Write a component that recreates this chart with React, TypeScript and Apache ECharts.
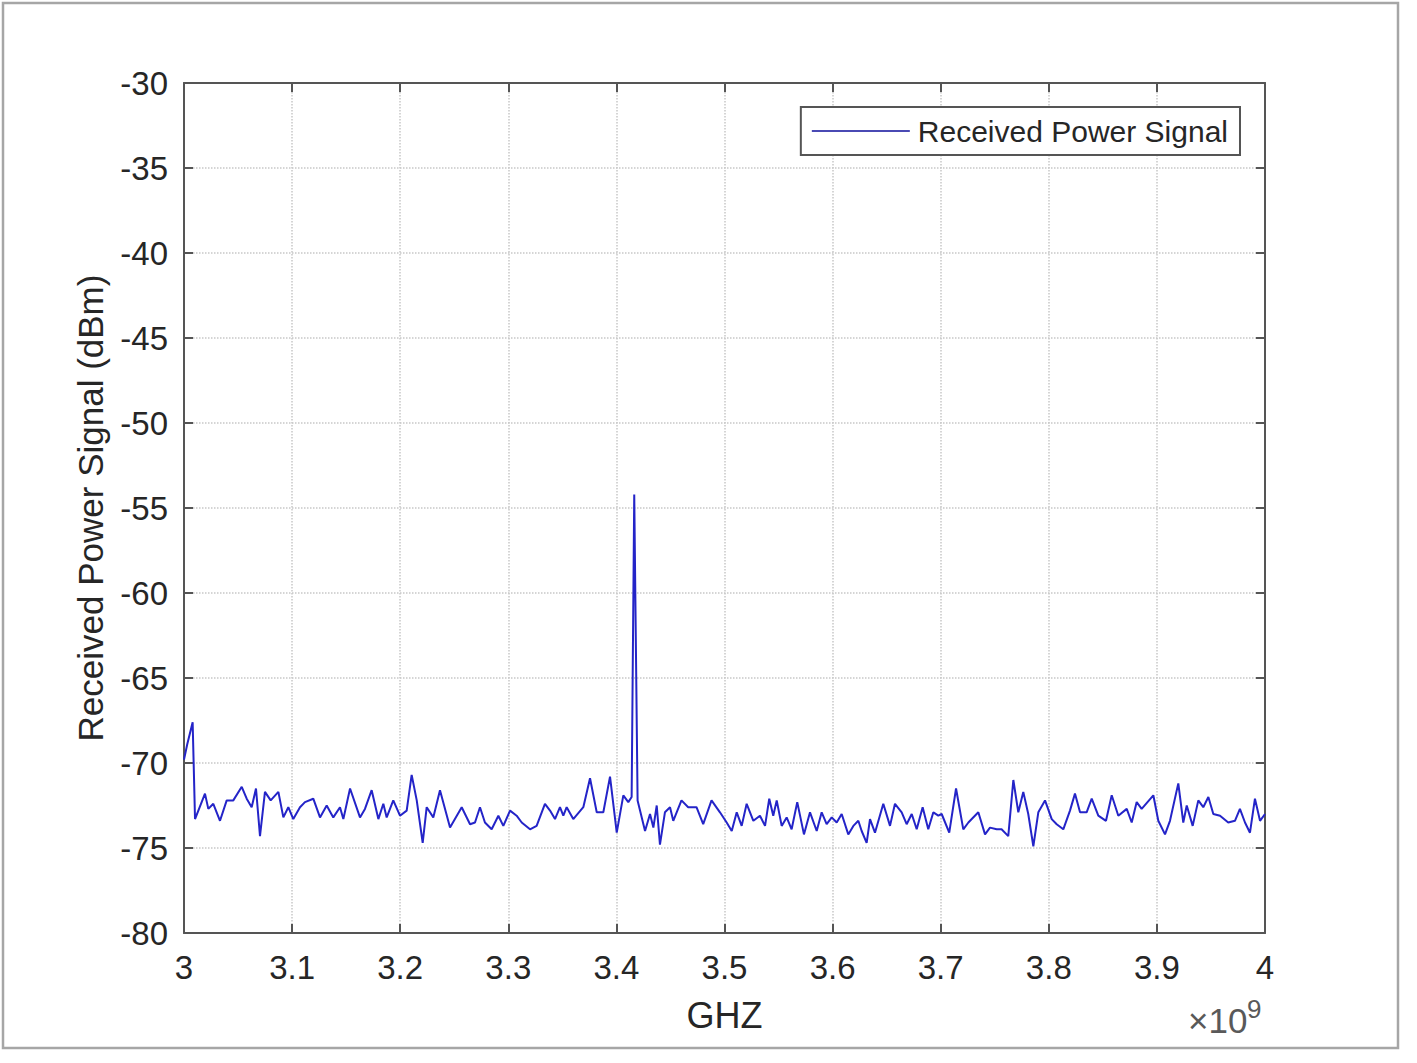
import React, { useEffect, useRef } from "react";
import * as echarts from "echarts";

const xTickLabels = ["3", "3.1", "3.2", "3.3", "3.4", "3.5", "3.6", "3.7", "3.8", "3.9", "4"];
const yTickLabels = ["-30", "-35", "-40", "-45", "-50", "-55", "-60", "-65", "-70", "-75", "-80"];
const seriesName = "Received Power Signal";

const freqGHz = [
  3.0, 3.003, 3.008, 3.0102, 3.0194, 3.0225, 3.0271, 3.0333, 3.0395, 3.0456, 3.0534, 3.058, 3.0626,
  3.0666, 3.0703, 3.0749, 3.0802, 3.0873, 3.0919, 3.0965, 3.1011, 3.1073, 3.1119, 3.1196, 3.1258,
  3.132, 3.1381, 3.1443, 3.1474, 3.1536, 3.1628, 3.1674, 3.1736, 3.1798, 3.1844, 3.1875, 3.1936,
  3.1998, 3.206, 3.2106, 3.2153, 3.2208, 3.2245, 3.2306, 3.2368, 3.2461, 3.2569, 3.2646, 3.2692,
  3.2738, 3.2784, 3.2846, 3.2908, 3.2954, 3.3016, 3.3077, 3.3124, 3.3201, 3.3262, 3.3339, 3.3386,
  3.3432, 3.3478, 3.3509, 3.354, 3.3601, 3.3694, 3.3756, 3.3818, 3.3879, 3.3941, 3.4003, 3.4064,
  3.411, 3.4141, 3.4165, 3.4196, 3.4265, 3.4311, 3.4342, 3.4373, 3.4403, 3.4449, 3.4496, 3.4526,
  3.4602, 3.4664, 3.4741, 3.4803, 3.488, 3.4958, 3.502, 3.5067, 3.5113, 3.5159, 3.5205, 3.5267,
  3.5328, 3.5375, 3.5414, 3.5451, 3.5483, 3.5529, 3.5575, 3.5621, 3.5673, 3.5735, 3.5791, 3.5853,
  3.5899, 3.5945, 3.5992, 3.6038, 3.6084, 3.6145, 3.6192, 3.6238, 3.6269, 3.6315, 3.6346, 3.6392,
  3.6469, 3.6531, 3.6577, 3.6639, 3.6685, 3.6732, 3.6778, 3.6833, 3.6885, 3.6932, 3.6978, 3.7009,
  3.7079, 3.7142, 3.7209, 3.7256, 3.7348, 3.741, 3.7456, 3.7518, 3.7563, 3.7625, 3.7672, 3.7718,
  3.7764, 3.781, 3.7857, 3.7903, 3.7965, 3.8027, 3.8073, 3.8134, 3.8196, 3.8242, 3.8289, 3.835,
  3.8397, 3.8458, 3.8529, 3.8582, 3.8643, 3.8721, 3.8767, 3.8813, 3.8859, 3.8967, 3.9013, 3.9075,
  3.9121, 3.9198, 3.9244, 3.9276, 3.9331, 3.9383, 3.9429, 3.9476, 3.9522, 3.9584, 3.966, 3.9722,
  3.9768, 3.9815, 3.9861, 3.9907, 3.9954, 4.0,
];

const powerDbm = [
  -69.8, -68.9, -67.6, -73.3, -71.8, -72.7, -72.4, -73.4, -72.2, -72.2, -71.4, -72.1, -72.6,
  -71.5, -74.3, -71.7, -72.2, -71.7, -73.2, -72.6, -73.3, -72.6, -72.3, -72.1, -73.2,
  -72.5, -73.2, -72.6, -73.3, -71.5, -73.2, -72.7, -71.6, -73.3, -72.4, -73.2, -72.2,
  -73.1, -72.8, -70.7, -72.2, -74.7, -72.6, -73.2, -71.6, -73.8, -72.6, -73.6, -73.5,
  -72.6, -73.5, -73.9, -73.1, -73.7, -72.8, -73.1, -73.5, -73.9, -73.7, -72.4, -72.8,
  -73.3, -72.6, -73.1, -72.6, -73.3, -72.6, -70.9, -72.9, -72.9, -70.8, -74.1, -71.9,
  -72.3, -72.0, -54.2, -72.2, -74.0, -73.0, -73.8, -72.5, -74.8, -72.9, -72.6, -73.4,
  -72.2, -72.6, -72.6, -73.6, -72.2, -72.9, -73.5, -74.0, -72.9, -73.7, -72.4, -73.4,
  -73.1, -73.7, -72.1, -73.1, -72.2, -73.7, -73.2, -73.9, -72.3, -74.2, -72.9, -74.0,
  -72.9, -73.6, -73.2, -73.5, -73.0, -74.2, -73.7, -73.4, -74.0, -74.7, -73.3, -74.1,
  -72.4, -73.7, -72.4, -72.9, -73.6, -73.0, -73.9, -72.6, -73.9, -72.9, -73.1, -73.0,
  -74.1, -71.5, -73.9, -73.5, -72.9, -74.2, -73.8, -73.9, -73.9, -74.3, -71.0, -72.9,
  -71.7, -73.0, -74.9, -72.9, -72.2, -73.3, -73.6, -73.9, -72.8, -71.8, -72.9, -72.9,
  -72.1, -73.1, -73.4, -71.9, -73.1, -72.7, -73.5, -72.3, -72.7, -71.9, -73.4, -74.2,
  -73.4, -71.2, -73.5, -72.5, -73.7, -72.2, -72.6, -72.0, -73.0, -73.1, -73.5, -73.4,
  -72.7, -73.5, -74.1, -72.1, -73.4, -73.0,
];

const FONT = "'Liberation Sans', Arial, Helvetica, sans-serif";
const TEXT = "#262626";
const AXIS = "#555555";
const LINE = "#2424c8";

export default function App() {
  const ref = useRef<HTMLDivElement>(null);

  useEffect(() => {
    if (!ref.current) return;
    const chart = echarts.init(ref.current, null, { renderer: "svg" });
    const data = freqGHz.map((f, i) => [f, powerDbm[i]]);
    const fmtX = (v: number) => String(Math.round(v * 10) / 10);
    const xMin = Number(xTickLabels[0]);
    const xMax = Number(xTickLabels[xTickLabels.length - 1]);
    const yMax = Number(yTickLabels[0]);
    const yMin = Number(yTickLabels[yTickLabels.length - 1]);

    const baseAxis = {
      axisLine: { show: true, lineStyle: { color: AXIS, width: 2 } },
      axisTick: { show: true, inside: true, length: 9, lineStyle: { color: AXIS, width: 2 } },
    };

    chart.setOption({
      animation: false,
      backgroundColor: "#ffffff",
      textStyle: { fontFamily: FONT },
      grid: { left: 184, right: 152, top: 83, bottom: 130, containLabel: false },
      legend: {
        show: true,
        data: [{ name: seriesName, icon: "rect" }],
        right: 177,
        top: 107,
        orient: "vertical",
        backgroundColor: "#ffffff",
        borderColor: AXIS,
        borderWidth: 2,
        borderRadius: 0,
        padding: [9, 12, 9, 11],
        itemWidth: 98,
        itemHeight: 2,
        itemGap: 0,
        itemStyle: { color: "#4a4ab4" },
        textStyle: { fontFamily: FONT, fontSize: 30, color: TEXT, padding: [0, 0, 0, 3] },
      },
      xAxis: [
        {
          type: "value",
          position: "bottom",
          min: xMin,
          max: xMax,
          interval: 0.1,
          ...baseAxis,
          axisLabel: { show: true, margin: 18, fontSize: 33, color: TEXT, fontFamily: FONT, formatter: fmtX },
          splitLine: { show: true, lineStyle: { color: "#c8c8c8", type: "dotted", width: 1.5 } },
          name: "GHZ",
          nameLocation: "middle",
          nameGap: 64,
          nameTextStyle: { fontSize: 36, color: TEXT, fontFamily: FONT },
        },
        {
          type: "value",
          position: "top",
          min: xMin,
          max: xMax,
          interval: 0.1,
          ...baseAxis,
          axisLabel: { show: false },
          splitLine: { show: false },
        },
      ],
      yAxis: [
        {
          type: "value",
          position: "left",
          min: yMin,
          max: yMax,
          interval: 5,
          ...baseAxis,
          axisLabel: { show: true, margin: 16, fontSize: 33, color: TEXT, fontFamily: FONT },
          splitLine: { show: true, lineStyle: { color: "#c8c8c8", type: "dotted", width: 1.5 } },
          name: "Received Power Signal (dBm)",
          nameLocation: "middle",
          nameGap: 76,
          nameTextStyle: { fontSize: 35, color: TEXT, fontFamily: FONT },
        },
        {
          type: "value",
          position: "right",
          min: yMin,
          max: yMax,
          interval: 5,
          ...baseAxis,
          axisLabel: { show: false },
          splitLine: { show: false },
        },
      ],
      series: [
        {
          name: seriesName,
          type: "line",
          xAxisIndex: 0,
          yAxisIndex: 0,
          data,
          symbol: "none",
          showSymbol: false,
          lineStyle: { color: LINE, width: 2 },
          itemStyle: { color: LINE },
        },
      ],
      graphic: [
        {
          type: "rect",
          silent: true,
          shape: { x: 3, y: 3, width: 1395, height: 1045 },
          style: { fill: "none", stroke: "#a6a6a6", lineWidth: 2.5 },
          z: 100,
        },
        {
          type: "text",
          silent: true,
          x: 1188,
          y: 1003,
          style: { text: "×10", fontSize: 35, fontFamily: FONT, fill: "#595959" },
        },
        {
          type: "text",
          silent: true,
          x: 1247,
          y: 996,
          style: { text: "9", fontSize: 26, fontFamily: FONT, fill: "#595959" },
        },
      ],
    });

    return () => chart.dispose();
  }, []);

  return (
    <div
      ref={ref}
      style={{ position: "absolute", left: 0, top: 0, width: 1417, height: 1063, background: "#fff" }}
    />
  );
}
